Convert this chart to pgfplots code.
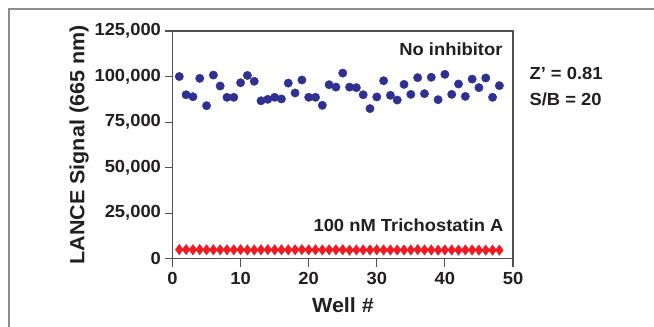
\documentclass[border=0pt]{standalone}
\usepackage{fontspec}
\setmainfont{Liberation Sans}[FakeStretch=1.05]
\usepackage{pgfplots}
\pgfplotsset{compat=1.18}
\definecolor{dotblue}{RGB}{46,49,146}
\definecolor{diamred}{RGB}{237,28,36}
\definecolor{txt}{RGB}{35,31,32}
\definecolor{frame}{RGB}{140,140,140}
\definecolor{axc}{RGB}{80,80,80}
\begin{document}
\begin{tikzpicture}[x=1pt,y=1pt]
\useasboundingbox (0,0) rectangle (654,327);
\draw[frame,line width=1.2pt] (9,0) -- (9,318) -- (660,318);
\begin{axis}[
  at={(172.5pt,68.3pt)}, anchor=south west,
  scale only axis, width=340.5pt, height=227.7pt,
  xmin=0, xmax=50, ymin=0, ymax=125000,
  xtick={0,10,20,30,40,50},
  xticklabels={0,10,20,30,40,50},
  ytick={0,25000,50000,75000,100000,125000},
  yticklabels={0,{25,000},{50,000},{75,000},{100,000},{125,000}},
  scaled y ticks=false,
  tick label style={font=\fontsize{17.5}{19}\selectfont\bfseries, text=txt},
  xticklabel style={yshift=-2pt},
  axis line style={axc, line width=1.1pt},
  tick style={axc, line width=1.1pt},
  major tick length=8pt,
  tick align=outside,
  xtick pos=bottom, ytick pos=left,
  clip=false,
]
\addplot[only marks, mark=*, mark size=4.2pt, mark options={fill=dotblue, draw=dotblue}] coordinates {
(1,100000)(2,90000)(3,88900)(4,99000)(5,84000)(6,100800)(7,94800)(8,88600)
(9,88600)(10,96600)(11,100600)(12,97400)(13,86700)(14,87500)(15,88600)(16,87700)
(17,96400)(18,91000)(19,98100)(20,88600)(21,88600)(22,84200)(23,95500)(24,94200)
(25,101900)(26,94200)(27,93900)(28,90000)(29,82400)(30,88800)(31,97700)(32,89700)
(33,87100)(34,95700)(35,90200)(36,99400)(37,90600)(38,99600)(39,87300)(40,101200)
(41,90200)(42,95900)(43,89100)(44,98600)(45,93900)(46,99200)(47,88600)(48,95000)
};
\addplot[only marks, mark=diamond*, mark size=5.2pt, mark options={fill=diamred, draw=diamred}] coordinates {
(1,5000)(2,5000)(3,4900)(4,5000)(5,4900)(6,4900)(7,4900)(8,4900)
(9,4900)(10,5000)(11,4800)(12,4800)(13,4900)(14,5000)(15,4900)(16,4900)
(17,4900)(18,4900)(19,5000)(20,4900)(21,4900)(22,4800)(23,4900)(24,4900)
(25,4900)(26,4700)(27,4800)(28,4800)(29,4800)(30,4900)(31,4800)(32,4800)
(33,4800)(34,4800)(35,4800)(36,5000)(37,4800)(38,4800)(39,4700)(40,4800)
(41,4800)(42,4700)(43,4800)(44,4800)(45,4700)(46,4700)(47,4700)(48,4700)
};
\end{axis}
\node[rotate=90, text=txt, font=\fontsize{20.5}{22}\selectfont\bfseries] at (79,182) {LANCE Signal (665 nm)};
\node[text=txt, font=\fontsize{20.5}{22}\selectfont\bfseries] at (343,22) {Well \#};
\node[anchor=east, text=txt, font=\fontsize{17.5}{20}\selectfont\bfseries] at (506,278) {No inhibitor};
\node[anchor=east, text=txt, font=\fontsize{17.5}{20}\selectfont\bfseries] at (507,102) {100 nM Trichostatin A};
\node[anchor=west, text=txt, font=\fontsize{17.5}{20}\selectfont\bfseries] at (526,254) {Z' = 0.81};
\node[anchor=west, text=txt, font=\fontsize{17.5}{20}\selectfont\bfseries] at (526,228) {S/B = 20};
\end{tikzpicture}
\end{document}
